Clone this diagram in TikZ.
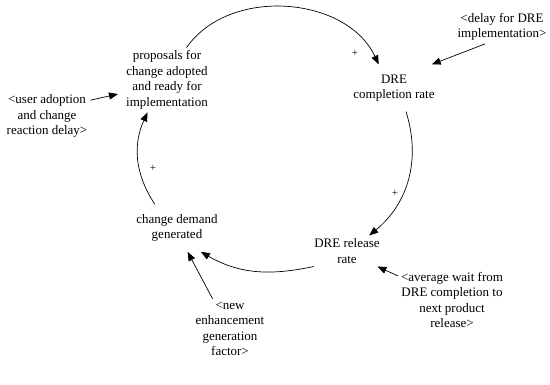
\documentclass[tikz,border=0pt]{standalone}
\usepackage{fontspec}
\setmainfont{Liberation Serif}
\usetikzlibrary{arrows.meta}

\begin{document}
\begin{tikzpicture}[x=1pt, y=1pt,
    var/.style={align=center, inner sep=3pt, font=\fontsize{13}{15.5}\selectfont},
    link/.style={-{Triangle[length=9pt, width=7pt]}, line width=0.7pt},
    sign/.style={font=\fontsize{11}{13}\selectfont}]

    \useasboundingbox (0, 0) rectangle (550, 385);

    % Loop variables
    \node[var, inner xsep=8pt] (proposals) at (167, 305) {proposals for\\change adopted\\and ready for\\implementation};
    \node[var, inner ysep=10pt] (completion) at (394, 297) {DRE\\completion rate};
    \node[var] (release) at (347, 134) {DRE release\\rate};
    \node[var, inner ysep=10pt] (demand) at (177, 157) {change demand\\generated};

    % Shadow variables
    \node[var] (adoption) at (47, 269) {<user adoption\\and change\\reaction delay>};
    \node[var] (delay) at (502, 358) {<delay for DRE\\implementation>};
    \node[var] (wait) at (452, 85) {<average wait from\\DRE completion to\\next product\\release>};
    \node[var] (enhancement) at (230, 56) {<new\\enhancement\\generation\\factor>};

    % Loop links
    \draw[link] (proposals.59) to[bend left=60] (completion.123);
    \draw[link] (completion.297) to[bend left=34] (release.35);
    \draw[link] (release.205) to[out=192, in=-30] (demand.315);
    \draw[link] (demand.133) to[bend left=29] (proposals.239);

    % Links from shadow variables
    \draw[link] (delay.225) -- (completion.32);
    \draw[link] (wait.156) -- (release.333);
    \draw[link] (enhancement.120) -- (demand.294);
    \draw[link] (adoption.20) -- (proposals.196);

    % Polarities
    \node[sign] (plusa) at (355, 332) {+};
    \node[sign] (plusb) at (395, 192) {+};
    \node[sign] (plusc) at (153, 217) {+};

\end{tikzpicture}
\end{document}
